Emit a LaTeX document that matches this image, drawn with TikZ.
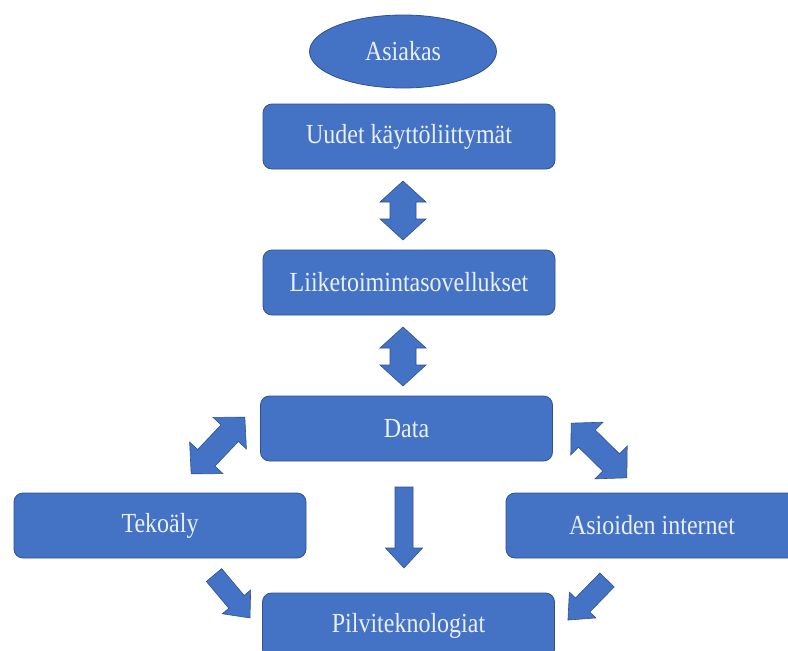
\documentclass[tikz,border=0pt]{standalone}
\usepackage{fontspec}
\usepackage{graphicx}
\setmainfont{Liberation Serif}
\usetikzlibrary{shapes.geometric}
\definecolor{boxblue}{HTML}{4472C4}
\definecolor{edgeblue}{HTML}{2F528F}
\definecolor{txt}{HTML}{EAF0FA}
\newcommand\tall[1]{\scalebox{1}[1.15]{#1}}
\newcommand\DblArrow[7]{%
  \draw[blockarrow, shift={(#1,#2)}, rotate=#3]
    ({-#4/2},0) -- ({-#4/2+#5},{#6/2}) -- ({-#4/2+#5},{#7/2}) -- ({#4/2-#5},{#7/2})
    -- ({#4/2-#5},{#6/2}) -- ({#4/2},0) -- ({#4/2-#5},{-#6/2}) -- ({#4/2-#5},{-#7/2})
    -- ({-#4/2+#5},{-#7/2}) -- ({-#4/2+#5},{-#6/2}) -- cycle;}
\newcommand\OneArrow[7]{%
  \draw[blockarrow, shift={(#1,#2)}, rotate=#3]
    ({-#4/2},{#7/2}) -- ({#4/2-#5},{#7/2}) -- ({#4/2-#5},{#6/2}) -- ({#4/2},0)
    -- ({#4/2-#5},{-#6/2}) -- ({#4/2-#5},{-#7/2}) -- ({-#4/2},{-#7/2}) -- cycle;}
\begin{document}
\begin{tikzpicture}[x=1pt,y=1pt,
  box/.style={draw=edgeblue, line width=0.8pt, fill=boxblue, rounded corners=9pt,
    minimum width=292pt, minimum height=65pt, inner sep=0pt,
    text=txt, font=\fontsize{24}{28}\selectfont},
  oval/.style={ellipse, draw=edgeblue, line width=0.8pt, fill=boxblue,
    minimum width=187pt, minimum height=73pt, inner sep=0pt,
    text=txt, font=\fontsize{24}{28}\selectfont},
  blockarrow/.style={fill=boxblue, draw=edgeblue, line width=0.6pt, line join=miter}]
\clip (0,0) rectangle (788,-651);
\fill[white] (0,0) rectangle (788,-651);
\node[oval] (asiakas) at (403,-51.5) {\tall{Asiakas}};
\node[box] (uudet) at (409,-136.5) {\tall{Uudet käyttöliittymät}};
\node[box] (liike) at (409,-282.5) {\tall{Liiketoimintasovellukset}};
\node[box] (data) at (406.5,-428.5) {\tall{Data}};
\node[box] (teko) at (160,-525.5) {\tall{Tekoäly}};
\node[box] (iot) at (652,-525.5) {\tall{Asioiden internet}};
\node[box] (pilvi) at (408.5,-625.5) {\tall{Pilviteknologiat}};
% block arrows: cx, cy, angle, length, head length, head width, shaft width
\DblArrow{403}{-210.5}{90}{59}{21}{46}{26}
\DblArrow{403}{-356.5}{90}{59}{21}{46}{26}
\DblArrow{218}{-445.5}{46.5}{78}{22}{46}{24}
\DblArrow{599}{-450.5}{-44.5}{78}{22}{46}{24}
\OneArrow{404}{-527.5}{-90}{81}{20}{37}{18}
\OneArrow{232}{-596.5}{-50}{56}{21}{37}{20}
\OneArrow{587.5}{-600}{-134.3}{56}{21}{37}{20}
\end{tikzpicture}
\end{document}
